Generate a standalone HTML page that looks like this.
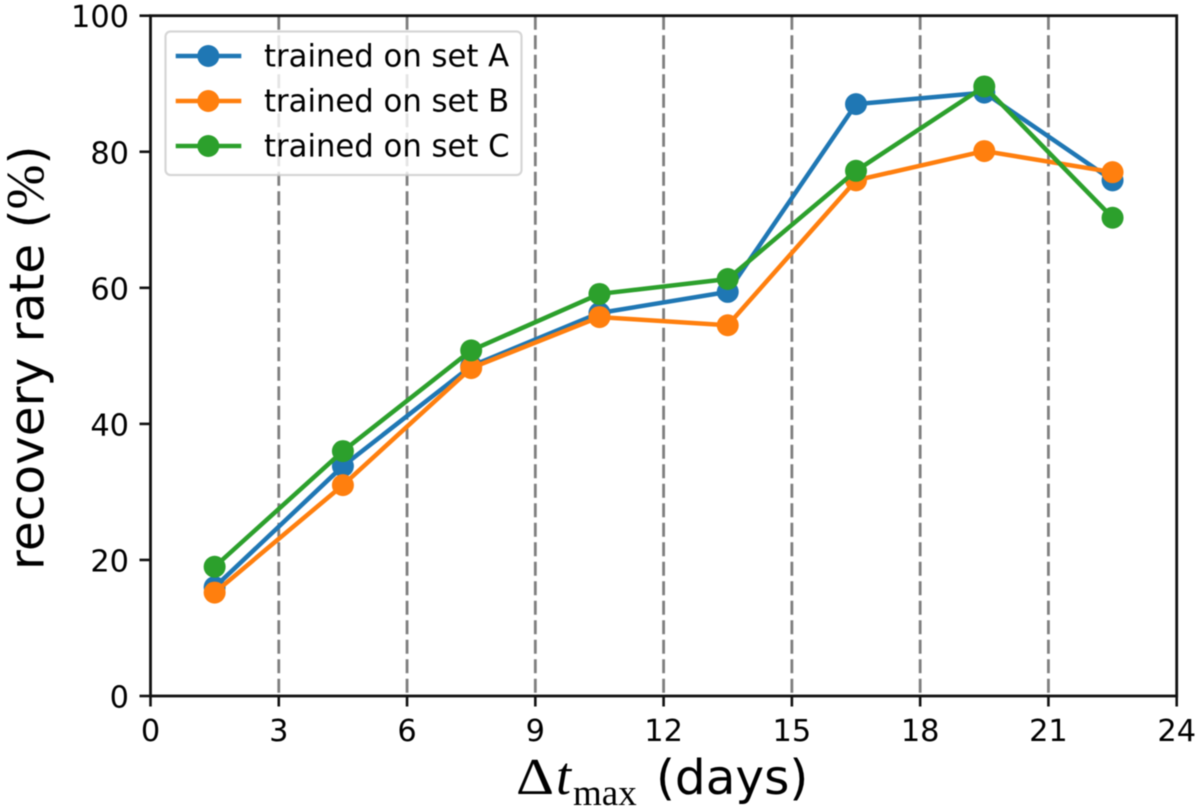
<!DOCTYPE html>
<html>
<head>
<meta charset="utf-8">
<title>Recovery rate chart</title>
<style>
html,body{margin:0;padding:0;background:#fff;width:1200px;height:812px;overflow:hidden}
svg{display:block;filter:blur(0.5px)}
text{font-family:"DejaVu Sans","Liberation Sans",sans-serif;fill:#000}
</style>
</head>
<body>
<svg id="chart" xmlns="http://www.w3.org/2000/svg" width="1200" height="812" viewBox="0 0 1200 812"></svg>
<script>
const xTicks = [0, 3, 6, 9, 12, 15, 18, 21, 24];
const yTicks = [0, 20, 40, 60, 80, 100];
const vLines = [3, 6, 9, 12, 15, 18, 21];
const binCenters = [1.5, 4.5, 7.5, 10.5, 13.5, 16.5, 19.5, 22.5];
const setA = [16, 33.8, 48.5, 56.3, 59.4, 87, 88.7, 75.8];
const setB = [15.2, 31, 48.2, 55.7, 54.5, 75.8, 80.1, 77];
const setC = [19, 36, 50.8, 59.1, 61.3, 77.2, 89.6, 70.3];
const seriesNames = ["trained on set A", "trained on set B", "trained on set C"];
const seriesKeys = ["set-a", "set-b", "set-c"];

const L = 150.5, R = 1176.7, T = 15.7, B = 696;
const xMin = 0, xMax = 24, yMin = 0, yMax = 100;
function xScale(v) { return L + (v - xMin) / (xMax - xMin) * (R - L); }
function yScale(v) { return B - (v - yMin) / (yMax - yMin) * (B - T); }

const svg = document.getElementById('chart');
const NS = 'http://www.w3.org/2000/svg';
function mk(tag, attrs, parent, txt) {
  const e = document.createElementNS(NS, tag);
  for (const k in attrs) e.setAttribute(k, attrs[k]);
  if (txt !== undefined) e.textContent = txt;
  (parent || svg).appendChild(e);
  return e;
}
const colors = ["#1f77b4", "#ff7f0e", "#2ca02c"];
const allSeries = [setA, setB, setC];

// dashed vertical lines
vLines.forEach(function (v) {
  const ln = mk('line', {x1: xScale(v), x2: xScale(v), y1: T, y2: B, stroke: '#000', 'stroke-opacity': 0.5, 'stroke-width': 2.8, 'stroke-dasharray': '14 5.5'});
  
  
});

// series
allSeries.forEach(function (vals, i) {
  const g = mk('g', {});
  
  
  const pts = vals.map(function (v, j) { return xScale(binCenters[j]) + ',' + yScale(v); }).join(' ');
  const pl = mk('polyline', {points: pts, fill: 'none', stroke: colors[i], 'stroke-width': 4.5, 'stroke-linejoin': 'round'}, g);
  
  
  vals.forEach(function (v, j) {
    const c = mk('circle', {cx: xScale(binCenters[j]), cy: yScale(v), r: 11, fill: colors[i]}, g);
    
    
  });
});

// spines
const frame = mk('rect', {x: L, y: T, width: R - L, height: B - T, fill: 'none', stroke: '#111', 'stroke-width': 2.8});



// x ticks
xTicks.forEach(function (v) {
  const t = mk('line', {x1: xScale(v), x2: xScale(v), y1: B, y2: B + 10.5, stroke: '#111', 'stroke-width': 2.6});
  
  
  const lab = mk('text', {x: xScale(v), y: B + 45, 'text-anchor': 'middle', 'font-size': 30.4}, svg, String(v));
  
  
});
// y ticks
yTicks.forEach(function (v) {
  const t = mk('line', {x1: L - 11, x2: L, y1: yScale(v), y2: yScale(v), stroke: '#111', 'stroke-width': 2.6});
  
  
  const lab = mk('text', {x: L - 21.5, y: yScale(v) + 11.5, 'text-anchor': 'end', 'font-size': 30.4}, svg, String(v));
  
  
});

// legend
const legend = mk('g', {});


const box = mk('rect', {x: 165.5, y: 31.5, width: 356, height: 143.5, rx: 5, ry: 5, fill: '#fff', 'fill-opacity': 0.8, stroke: '#ccc', 'stroke-opacity': 0.8, 'stroke-width': 2.2}, legend);


seriesNames.forEach(function (name, i) {
  const y = 56 + i * 45;
  const e = mk('g', {}, legend);
  
  
  mk('line', {x1: 175.7, x2: 241.3, y1: y, y2: y, stroke: colors[i], 'stroke-width': 4.5}, e);
  mk('circle', {cx: 208.3, cy: y, r: 11, fill: colors[i]}, e);
  mk('text', {x: 264, y: y + 10.7, 'font-size': 30.7}, e, name);
});
</script>
<svg style="position:absolute;left:0;top:0" width="1200" height="812" viewBox="0 0 1200 812">
  <text transform="translate(43.5,570) rotate(-90)" font-size="48.5" style="font-family:'DejaVu Sans',sans-serif">recovery rate (<tspan style="font-family:'Liberation Serif',serif" font-size="54">%</tspan>)</text>
  <g>
    <text x="516" y="794" font-size="52" textLength="38" lengthAdjust="spacingAndGlyphs" style="font-family:'Liberation Serif',serif">Δ</text>
    <text x="556" y="794" font-size="54" style="font-family:'Liberation Serif',serif;font-style:italic">t</text>
    <text x="573" y="805" font-size="37" style="font-family:'Liberation Serif',serif">max</text>
    <text x="656" y="794" font-size="48.5">(days)</text>
  </g>
</svg>
</body>
</html>
